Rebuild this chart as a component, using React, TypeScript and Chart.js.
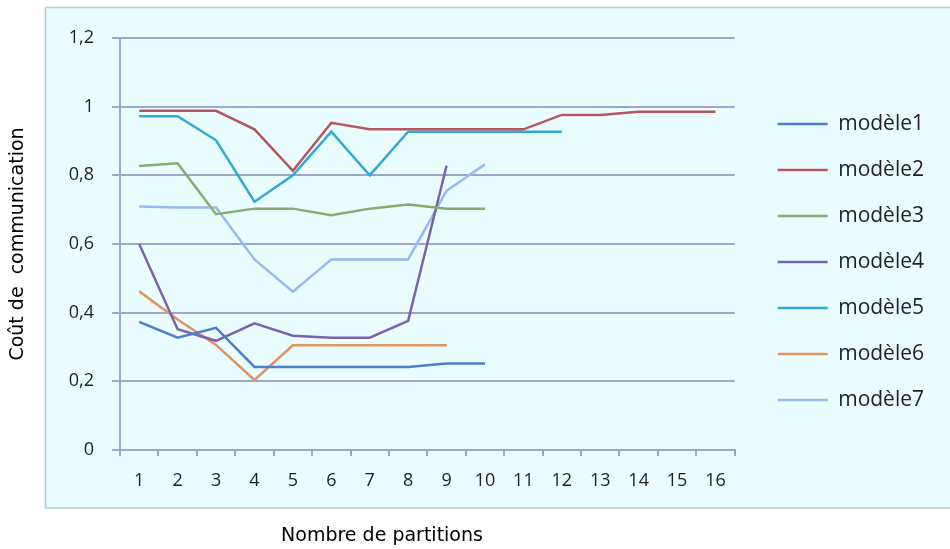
import React, { useEffect, useRef } from 'react';
import { Chart, registerables } from 'chart.js';

Chart.register(...registerables);

const partitions = ['1', '2', '3', '4', '5', '6', '7', '8', '9', '10', '11', '12', '13', '14', '15', '16'];

const modele1 = [0.373, 0.327, 0.356, 0.242, 0.242, 0.242, 0.242, 0.242, 0.252, 0.252];
const modele2 = [0.988, 0.988, 0.988, 0.934, 0.813, 0.953, 0.934, 0.934, 0.934, 0.934, 0.934, 0.976, 0.976, 0.985, 0.985, 0.985];
const modele3 = [0.827, 0.835, 0.687, 0.703, 0.703, 0.684, 0.703, 0.715, 0.703, 0.703];
const modele4 = [0.6, 0.352, 0.318, 0.369, 0.333, 0.327, 0.327, 0.376, 0.828];
const modele5 = [0.972, 0.972, 0.902, 0.723, 0.8, 0.927, 0.8, 0.927, 0.927, 0.927, 0.927, 0.927];
const modele6 = [0.462, 0.38, 0.306, 0.204, 0.305, 0.305, 0.305, 0.305, 0.305];
const modele7 = [0.709, 0.706, 0.706, 0.555, 0.461, 0.555, 0.555, 0.555, 0.755, 0.832];

const seriesNames = ['modèle1', 'modèle2', 'modèle3', 'modèle4', 'modèle5', 'modèle6', 'modèle7'];
const seriesData = [modele1, modele2, modele3, modele4, modele5, modele6, modele7];
const seriesColors = ['#4a7fc9', '#b85563', '#84ac6e', '#7b62ad', '#33a8d6', '#df9460', '#98b8f2'];

const yMin = 0;
const yMax = 1.2;
const yStep = 0.2;

const xTitle = 'Nombre de partitions';
const yTitle = 'Coût de  communication';

const gridColor = '#9ea4cd';
const tickColor = '#1e1e1e';

const framePlugin = {
  id: 'frame',
  beforeDraw(chart: any) {
    const { ctx, width, height } = chart;
    ctx.save();
    ctx.fillStyle = '#ffffff';
    ctx.fillRect(0, 0, width, height);
    ctx.fillStyle = '#e9fdfe';
    ctx.fillRect(45, 7, width - 45, 501);
    ctx.strokeStyle = '#b3c8e3';
    ctx.lineWidth = 1.5;
    ctx.beginPath();
    ctx.moveTo(width + 2, 7.5);
    ctx.lineTo(45.5, 7.5);
    ctx.lineTo(45.5, 508);
    ctx.lineTo(width + 2, 508);
    ctx.stroke();
    ctx.restore();
  },
  afterDraw(chart: any) {
    const { ctx } = chart;
    ctx.save();
    ctx.fillStyle = '#000000';
    ctx.font = '19px "DejaVu Sans"';
    ctx.textAlign = 'center';
    ctx.textBaseline = 'middle';
    ctx.fillText(xTitle, 382, 536);
    ctx.restore();
  },
};

export default function App() {
  const ref = useRef<HTMLCanvasElement>(null);

  useEffect(() => {
    let chart: any = null;
    let cancelled = false;
    const build = () => {
      if (cancelled || !ref.current) return;
      chart = new Chart(ref.current, {
        type: 'line',
        data: {
          labels: partitions,
          datasets: seriesData.map((d, i) => ({
            label: seriesNames[i],
            data: d,
            borderColor: seriesColors[i],
            backgroundColor: seriesColors[i],
            borderWidth: 2.5,
            pointRadius: 0,
            pointHoverRadius: 0,
            tension: 0,
            fill: false,
          })),
        },
        options: {
          responsive: false,
          animation: false,
          devicePixelRatio: 1,
          layout: { padding: { top: 38, left: 0, right: 16, bottom: 0 } },
          plugins: {
            tooltip: { enabled: false },
            legend: {
              position: 'right',
              align: 'start',
              fullSize: true,
              maxWidth: 240,
              title: {
                display: true,
                text: ' ',
                font: { size: 10 },
                padding: { top: 19.25, bottom: 19.25 },
              },
              labels: {
                usePointStyle: true,
                pointStyle: 'line',
                pointStyleWidth: 50,
                padding: 25,
                color: '#222222',
                font: { family: '"Open Sans"', size: 21 },
              },
            },
          },
          scales: {
            x: {
              type: 'category',
              offset: true,
              grid: {
                offset: true,
                drawOnChartArea: false,
                drawTicks: true,
                tickLength: 6,
                color: gridColor,
                lineWidth: 2,
              },
              border: { color: gridColor, width: 2 },
              ticks: {
                padding: 14,
                color: tickColor,
                font: { family: '"Open Sans"', size: 18 },
                maxRotation: 0,
                autoSkip: false,
              },
              afterFit: (s: any) => {
                s.height = 99;
              },
            },
            y: {
              min: yMin,
              max: yMax,
              ticks: {
                stepSize: yStep,
                padding: 18,
                color: tickColor,
                font: { family: '"Open Sans"', size: 18 },
                callback: (v: any) => String(Math.round(Number(v) * 10) / 10).replace('.', ','),
              },
              grid: { color: gridColor, lineWidth: 2, tickLength: 8 },
              border: { color: gridColor, width: 2 },
              title: {
                display: true,
                text: yTitle,
                color: '#000000',
                font: { family: '"DejaVu Sans"', size: 19 },
                padding: { top: 7, bottom: 0 },
              },
              afterFit: (s: any) => {
                s.width = 120;
              },
            },
            y2: {
              position: 'right',
              display: true,
              grid: { display: false },
              ticks: { display: false },
              border: { display: false },
              afterFit: (s: any) => {
                s.width = 18;
              },
            },
          },
        },
        plugins: [framePlugin],
      } as any);
    };
    const fonts: any = (document as any).fonts;
    if (fonts && fonts.load) {
      Promise.all([
        fonts.load('21px "Open Sans"'),
        fonts.load('18px "Open Sans"'),
        fonts.load('19px "DejaVu Sans"'),
      ])
        .catch(() => null)
        .then(build);
    } else {
      build();
    }
    return () => {
      cancelled = true;
      if (chart) chart.destroy();
    };
  }, []);

  return (
    <div style={{ position: 'fixed', left: 0, top: 0, width: 950, height: 549 }}>
      <canvas ref={ref} width={950} height={549} style={{ display: 'block', width: 950, height: 549 }} />
    </div>
  );
}
